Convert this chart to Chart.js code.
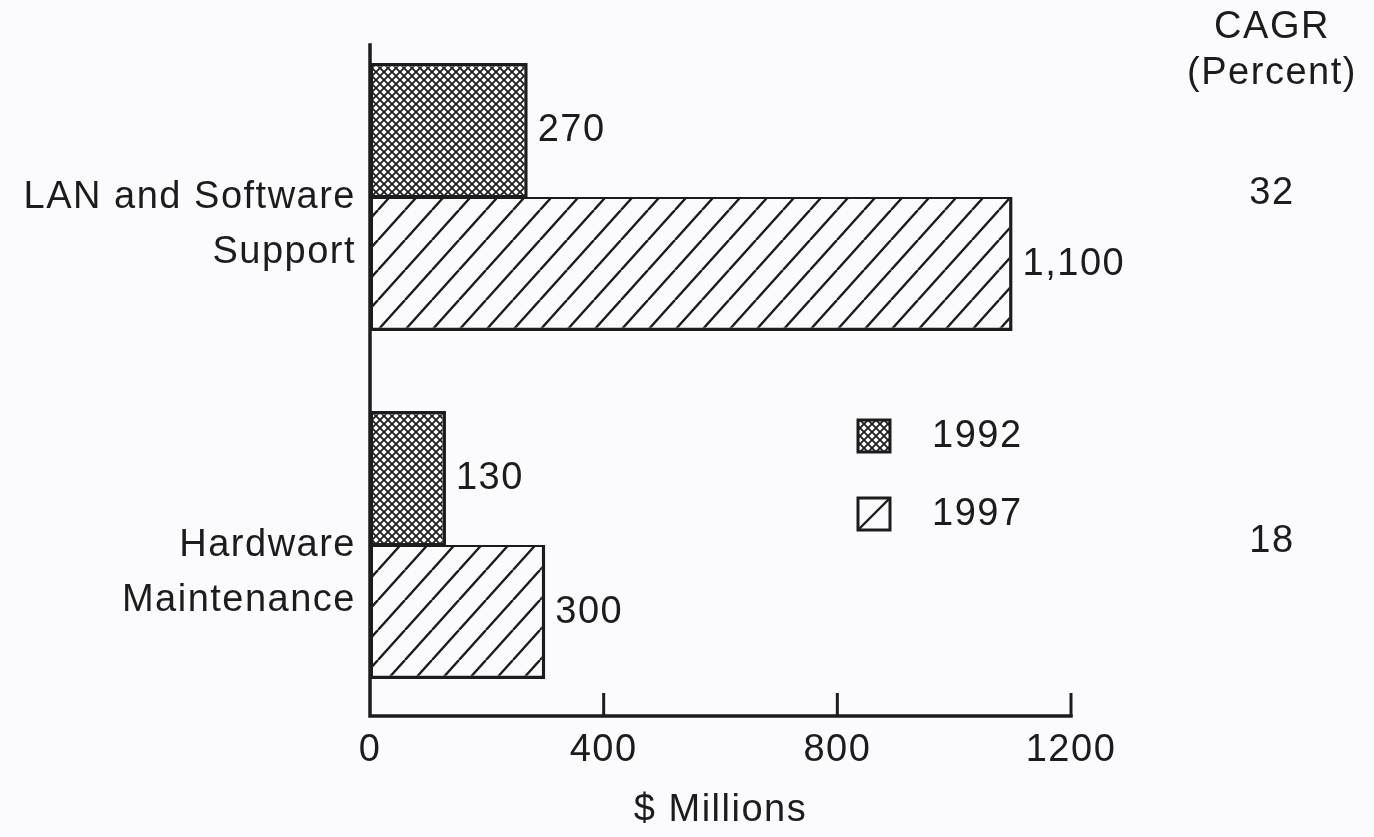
<!DOCTYPE html>
<html>
<head>
<meta charset="utf-8">
<script src="https://cdn.jsdelivr.net/npm/chart.js@4/dist/chart.umd.min.js"></script>
<style>
  html, body { margin: 0; padding: 0; background: #fbfbfd; }
  #wrap { width: 1374px; height: 837px; }
</style>
</head>
<body>
<div id="wrap"><canvas id="chart" width="1374" height="837"></canvas></div>
<script>
// chart data
const categories = [['LAN and Software', 'Support'], ['Hardware', 'Maintenance']];
const years = ['1992', '1997'];
const values1992 = [270, 130];
const values1997 = [1100, 300];
const cagr = ['32', '18'];
const xTicks = [0, 400, 800, 1200];

const bg = '#fbfbfd';
const ink = '#1c1c1c';
const fontFamily = '"Liberation Sans", Arial, Helvetica, sans-serif';
const fontSize = 38;
const axisLift = 3; // x axis line sits a little above the chart area bottom

const ctx = document.getElementById('chart').getContext('2d');

// fine crosshatch used for 1992
const crossHatch = () => {
  const c = document.createElement('canvas');
  c.width = 8; c.height = 8;
  const g = c.getContext('2d');
  g.fillStyle = bg; g.fillRect(0, 0, 8, 8);
  g.strokeStyle = '#222'; g.lineWidth = 1.9;
  g.beginPath();
  g.moveTo(0, 0); g.lineTo(8, 8);
  g.moveTo(8, 0); g.lineTo(0, 8);
  g.stroke();
  return ctx.createPattern(c, 'repeat');
};

// wide diagonal lines used for 1997
const diagHatch = () => {
  const w = 27, h = 30;
  const c = document.createElement('canvas');
  c.width = w; c.height = h;
  const g = c.getContext('2d');
  g.fillStyle = bg; g.fillRect(0, 0, w, h);
  g.strokeStyle = '#1c1c1c'; g.lineWidth = 2.4;
  g.beginPath();
  for (let k = -1; k <= 1; k++) {
    g.moveTo(k * w, h); g.lineTo(k * w + w, 0);
  }
  g.stroke();
  return ctx.createPattern(c, 'repeat');
};

const pat1992 = crossHatch();
const pat1997 = diagHatch();

const setText = (c) => {
  c.font = fontSize + 'px ' + fontFamily;
  c.fillStyle = ink;
  c.letterSpacing = '1.5px';
};

const decorPlugin = {
  id: 'decor',
  beforeDraw(chart) {
    const c = chart.ctx;
    c.save();
    c.fillStyle = bg;
    c.fillRect(0, 0, chart.width, chart.height);
    c.restore();
    c.letterSpacing = '1.5px';
  },
  afterDatasetsDraw(chart) {
    const c = chart.ctx;
    const xs = chart.scales.x, ys = chart.scales.y;
    const area = chart.chartArea;
    const x0 = xs.getPixelForValue(0);
    const yAxis = area.bottom - axisLift;
    c.save();
    // axis lines
    c.strokeStyle = ink;
    c.lineWidth = 3.5;
    c.lineCap = 'square';
    c.beginPath();
    c.moveTo(x0, 45);
    c.lineTo(x0, yAxis);
    c.lineTo(xs.getPixelForValue(xTicks[xTicks.length - 1]), yAxis);
    c.stroke();
    // tick marks pointing up
    c.lineWidth = 3;
    c.lineCap = 'butt';
    xTicks.slice(1).forEach(v => {
      const px = xs.getPixelForValue(v);
      c.beginPath();
      c.moveTo(px, yAxis);
      c.lineTo(px, yAxis - 23);
      c.stroke();
    });
    // value labels at bar ends
    setText(c);
    c.textAlign = 'left';
    c.textBaseline = 'middle';
    chart.data.datasets.forEach((ds, di) => {
      chart.getDatasetMeta(di).data.forEach((bar, i) => {
        c.fillText(ds.data[i].toLocaleString('en-US'), bar.x + 10, bar.y + 1);
      });
    });
    // CAGR column
    c.textAlign = 'center';
    c.fillText('CAGR', 1272, 28);
    c.fillText('(Percent)', 1272, 74);
    cagr.forEach((v, i) => {
      c.fillText(v, 1272, ys.getPixelForValue(i) - 3);
    });
    // legend
    const legendRows = [436, 514];
    c.textAlign = 'left';
    chart.data.datasets.forEach((ds, di) => {
      const cy = legendRows[di];
      const bx = 858, by = cy - 16, bs = 32;
      c.fillStyle = bg;
      c.fillRect(bx, by, bs, bs);
      if (di === 0) {
        c.fillStyle = ds.backgroundColor;
        c.fillRect(bx, by, bs, bs);
      } else {
        c.strokeStyle = ink;
        c.lineWidth = 2.4;
        c.beginPath();
        c.moveTo(bx, by + bs);
        c.lineTo(bx + bs, by);
        c.stroke();
      }
      c.strokeStyle = ink;
      c.lineWidth = 3;
      c.strokeRect(bx, by, bs, bs);
      c.fillStyle = ink;
      c.fillText(ds.label, 932, cy + 1);
    });
    c.restore();
  }
};

new Chart(ctx, {
  type: 'bar',
  data: {
    labels: categories,
    datasets: [
      {
        label: years[0],
        data: values1992,
        backgroundColor: pat1992,
        borderColor: ink,
        borderWidth: { top: 3.5, right: 3.5, bottom: 2, left: 3 },
        borderSkipped: false
      },
      {
        label: years[1],
        data: values1997,
        backgroundColor: pat1997,
        borderColor: ink,
        borderWidth: { top: 2, right: 3.5, bottom: 3.5, left: 3 },
        borderSkipped: false
      }
    ]
  },
  options: {
    indexAxis: 'y',
    responsive: false,
    animation: false,
    events: [],
    layout: { padding: { top: 23, right: 303, bottom: 0, left: 0 } },
    datasets: { bar: { categoryPercentage: 0.77, barPercentage: 1 } },
    plugins: { legend: { display: false }, tooltip: { enabled: false } },
    scales: {
      x: {
        min: 0,
        max: 1200,
        afterBuildTicks: (scale) => { scale.ticks = xTicks.map(v => ({ value: v })); },
        afterFit: (scale) => { scale.height = 118; },
        grid: { display: false, drawTicks: false },
        border: { display: false },
        ticks: {
          color: ink,
          padding: 9,
          maxRotation: 0,
          callback: (v) => String(v),
          font: { family: fontFamily, size: fontSize }
        },
        title: {
          display: true,
          text: '$ Millions',
          color: ink,
          padding: { top: 0, bottom: 4 },
          font: { family: fontFamily, size: 38 }
        }
      },
      y: {
        afterFit: (scale) => {
          scale.width = 370;
          scale.paddingTop = 0;
          scale.paddingBottom = 0;
        },
        grid: { display: false, drawTicks: false },
        border: { display: false },
        ticks: {
          color: ink,
          padding: 14,
          labelOffset: 28,
          font: { family: fontFamily, size: fontSize, lineHeight: 1.47 }
        }
      }
    }
  },
  plugins: [decorPlugin]
});
</script>
</body>
</html>
